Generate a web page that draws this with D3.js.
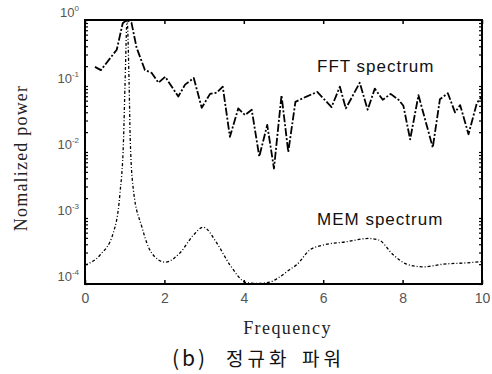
<!DOCTYPE html>
<html>
<head>
<meta charset="utf-8">
<script src="https://cdn.jsdelivr.net/npm/d3@7"></script>
<style>
  html, body { margin: 0; padding: 0; background: #fff; }
  svg { display: block; }
  .tick text { font-family: "Liberation Sans", Arial, sans-serif; fill: #555; }
</style>
</head>
<body>
<svg id="chart" width="492" height="374"></svg>
<script>
// Frequency axis ticks and power-of-ten y ticks
const xTicks = [0, 2, 4, 6, 8, 10];
const yMajorTicks = [1, 1e-1, 1e-2, 1e-3, 1e-4];
const yTickExponents = ["0", "-1", "-2", "-3", "-4"];

// FFT spectrum (normalized power vs frequency)
const fftFreq = [0.25, 0.40, 0.80, 0.95, 1.05, 1.17, 1.30, 1.51, 1.68, 1.85,
  2.02, 2.35, 2.52, 2.74, 2.94, 3.15, 3.32, 3.47, 3.65, 3.86,
  4.03, 4.20, 4.39, 4.59, 4.76, 4.95, 5.12, 5.30, 5.58, 5.85,
  6.21, 6.42, 6.57, 6.92, 7.12, 7.30, 7.50, 7.70, 7.90, 8.02,
  8.19, 8.40, 8.76, 8.94, 9.14, 9.32, 9.45, 9.66, 9.87, 10.0];
const fftPower = [0.195, 0.174, 0.355, 0.891, 1.0, 0.912, 0.380, 0.174, 0.158, 0.112,
  0.138, 0.0692, 0.105, 0.132, 0.0468, 0.0759, 0.0794, 0.0977, 0.0170, 0.0457,
  0.0363, 0.0437, 0.00851, 0.0257, 0.00562, 0.0724, 0.0100, 0.0575, 0.0692, 0.0813,
  0.0479, 0.0977, 0.0457, 0.112, 0.0437, 0.0912, 0.0617, 0.0759, 0.0617, 0.0501,
  0.0155, 0.0724, 0.0117, 0.0631, 0.0776, 0.0398, 0.0513, 0.0186, 0.0550, 0.0708];

// MEM spectrum (normalized power vs frequency)
const memFreq = [0, 0.38, 0.71, 0.88, 0.97, 1.01, 1.06, 1.11, 1.14, 1.22,
  1.43, 1.68, 2.02, 2.39, 2.73, 2.98, 3.32, 3.65, 4.07, 4.37,
  4.66, 4.91, 5.16, 5.33, 5.67, 6.00, 6.59, 7.14, 7.39, 7.77,
  8.10, 8.52, 9.03, 9.61, 10.0];
const memPower = [1.95e-4, 2.75e-4, 5.89e-4, 2.34e-3, 0.0151, 0.115, 1.0, 0.115, 0.0151, 2.63e-3,
  7.41e-4, 2.95e-4, 2.14e-4, 2.95e-4, 5.50e-4, 7.24e-4, 4.17e-4, 1.95e-4, 1.05e-4, 1.02e-4,
  1.07e-4, 1.29e-4, 1.66e-4, 1.95e-4, 3.31e-4, 3.89e-4, 4.37e-4, 4.90e-4, 4.68e-4, 2.75e-4,
  2.00e-4, 1.82e-4, 2.00e-4, 2.09e-4, 2.19e-4];

const svg = d3.select("#chart");
const margin = { left: 85, top: 20, right: 10, bottom: 90 };
const W = 492, H = 374;
const iw = W - margin.left - margin.right;
const ih = H - margin.top - margin.bottom;

const x = d3.scaleLinear().domain([0, 10]).range([0, iw]);
const y = d3.scaleLog().domain([1e-4, 1]).range([ih, 0]);

const g = svg.append("g").attr("transform", `translate(${margin.left},${margin.top})`);

svg.append("defs").append("clipPath").attr("id", "plotClip")
  .append("rect").attr("x", 0).attr("y", 0).attr("width", iw).attr("height", ih);

// Minor log ticks (1..9 × 10^k)
const minorTicks = y.ticks(40).filter(v => v >= 1e-4 && v <= 1);

// Left axis: inward ticks, labels drawn separately
const leftAxis = g.append("g").call(
  d3.axisLeft(y).tickValues(minorTicks).tickSize(-3).tickFormat("")
);
leftAxis.select(".domain").remove();
leftAxis.selectAll("line").attr("stroke", "#000").attr("stroke-width", 1.2);

const rightAxis = g.append("g").attr("transform", `translate(${iw},0)`).call(
  d3.axisRight(y).tickValues(minorTicks).tickSize(-3).tickFormat("")
);
rightAxis.select(".domain").remove();
rightAxis.selectAll("line").attr("stroke", "#000").attr("stroke-width", 1.2);

// Bottom axis with inward ticks and labels
const bottomAxis = g.append("g").attr("transform", `translate(0,${ih})`).call(
  d3.axisBottom(x).tickValues(xTicks).tickSize(-4).tickPadding(9).tickFormat(d3.format("d"))
);
bottomAxis.select(".domain").remove();
bottomAxis.selectAll("line").attr("stroke", "#000").attr("stroke-width", 1.5);
bottomAxis.selectAll("text").attr("font-size", 14).attr("fill", "#555");

const topAxis = g.append("g").call(
  d3.axisTop(x).tickValues(xTicks).tickSize(-4).tickFormat("")
);
topAxis.select(".domain").remove();
topAxis.selectAll("line").attr("stroke", "#000").attr("stroke-width", 1.5);

// y tick labels: 10 with superscript exponent
const yLab = g.append("g");
yMajorTicks.forEach((v, i) => {
  const t = yLab.append("text")
    .attr("x", -6).attr("y", y(v) - 3)
    .attr("text-anchor", "end")
    .attr("font-family", "Liberation Sans, Arial, sans-serif")
    .attr("font-size", 13).attr("fill", "#555");
  t.append("tspan").text("10");
  t.append("tspan").attr("dy", -6).attr("font-size", 8).text(yTickExponents[i]);
});

// Frame
g.append("rect").attr("x", 0).attr("y", 0).attr("width", iw).attr("height", ih)
  .attr("fill", "none").attr("stroke", "#000").attr("stroke-width", 2);

const plot = g.append("g").attr("clip-path", "url(#plotClip)");

// MEM spectrum
const memData = memFreq.map((f, i) => [f, memPower[i]]);
plot.append("path")
  .datum(memData)
  .attr("fill", "none")
  .attr("stroke", "#000")
  .attr("stroke-width", 1.3)
  .attr("stroke-dasharray", "3,2,1,2")
  .attr("d", d3.line().x(d => x(d[0])).y(d => y(d[1])).curve(d3.curveMonotoneX));

// FFT spectrum
const fftData = fftFreq.map((f, i) => [f, fftPower[i]]);
plot.append("path")
  .datum(fftData)
  .attr("fill", "none")
  .attr("stroke", "#000")
  .attr("stroke-width", 1.8)
  .attr("stroke-linejoin", "round")
  .attr("stroke-dasharray", "8,2,2,2")
  .attr("d", d3.line().x(d => x(d[0])).y(d => y(d[1])));

// Series labels
g.append("text").attr("x", 232).attr("y", 52)
  .attr("font-family", "Liberation Sans, Arial, sans-serif")
  .attr("font-size", 17).attr("letter-spacing", 1).attr("fill", "#111")
  .text("FFT spectrum");
g.append("text").attr("x", 232).attr("y", 205)
  .attr("font-family", "Liberation Sans, Arial, sans-serif")
  .attr("font-size", 17).attr("letter-spacing", 1).attr("fill", "#111")
  .text("MEM spectrum");

// Axis titles
svg.append("text")
  .attr("transform", `translate(27,${margin.top + ih / 2 + 6}) rotate(-90)`)
  .attr("text-anchor", "middle")
  .attr("font-family", "Liberation Serif, Times New Roman, serif")
  .attr("font-size", 18).attr("letter-spacing", 1.2).attr("fill", "#222")
  .text("Nomalized power");

svg.append("text")
  .attr("x", margin.left + iw / 2 + 4).attr("y", 334)
  .attr("text-anchor", "middle")
  .attr("font-family", "Liberation Serif, Times New Roman, serif")
  .attr("font-size", 18).attr("letter-spacing", 1.4).attr("fill", "#222")
  .text("Frequency");

// Caption
const cap = svg.append("g")
  .attr("font-family", "Noto Sans CJK KR, sans-serif")
  .attr("fill", "#111");
cap.append("text").attr("x", 172).attr("y", 366)
  .attr("font-size", 21).attr("letter-spacing", 3).text("(b)");
cap.append("text").attr("x", 226).attr("y", 366)
  .attr("font-size", 19).attr("letter-spacing", 4).text("정규화");
cap.append("text").attr("x", 302).attr("y", 366)
  .attr("font-size", 19).attr("letter-spacing", 4).text("파워");
</script>
</body>
</html>
